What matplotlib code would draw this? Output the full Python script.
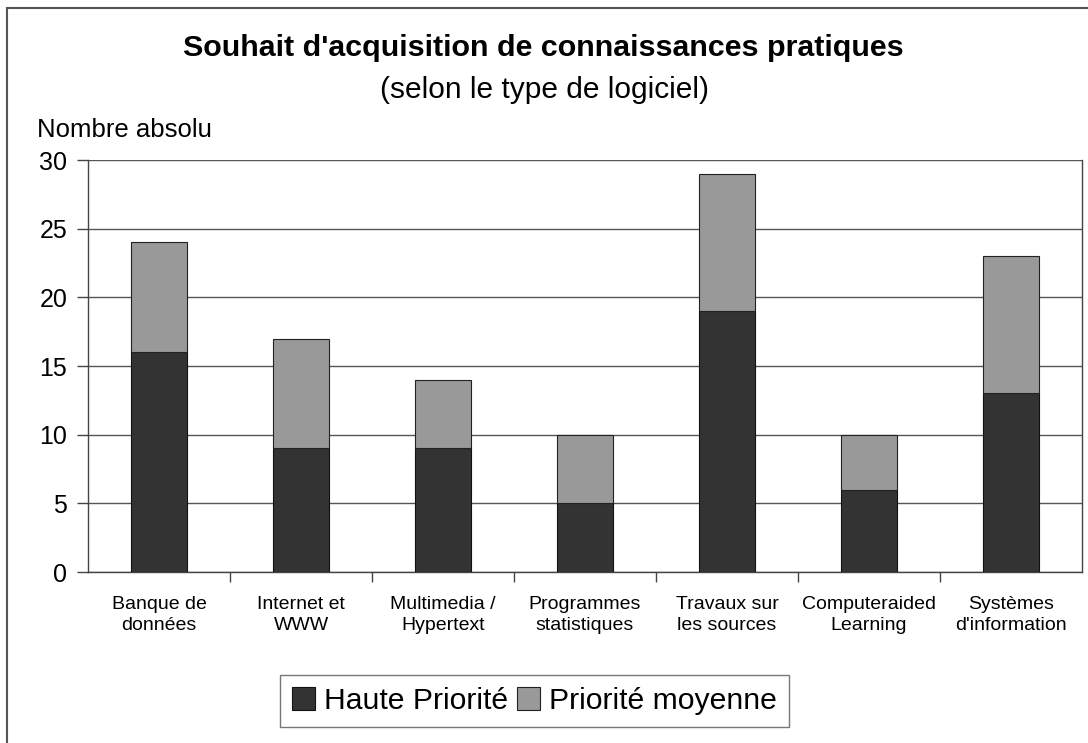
import numpy as np
import matplotlib
matplotlib.use("Agg")
import matplotlib.pyplot as plt
from matplotlib.patches import Rectangle

plt.rcParams['font.family'] = ['Liberation Sans', 'DejaVu Sans']

categories = ["Banque de\ndonnées", "Internet et\nWWW", "Multimedia /\nHypertext",
              "Programmes\nstatistiques", "Travaux sur\nles sources",
              "Computeraided\nLearning", "Systèmes\nd'information"]
haute = [16, 9, 9, 5, 19, 6, 13]
moyenne = [8, 8, 5, 5, 10, 4, 10]
yticks = [0, 5, 10, 15, 20, 25, 30]

fig = plt.figure(figsize=(10.88, 7.43), dpi=100)
ax = fig.add_axes([88 / 1088, 1 - 572 / 743, (1082 - 88) / 1088, (572 - 160) / 743])

x = np.arange(len(categories))
b1 = ax.bar(x, haute, width=0.40, color="#333333", edgecolor="#111111", linewidth=0.8,
            label="Haute Priorité", zorder=3)
b2 = ax.bar(x, moyenne, width=0.40, bottom=haute, color="#999999", edgecolor="#222222",
            linewidth=0.8, label="Priorité moyenne", zorder=3)

ax.set_xlim(-0.5, len(categories) - 0.5)
ax.set_ylim(0, 30)
ax.set_yticks(yticks)
ax.yaxis.grid(True, color="#555555", linewidth=1.0, zorder=0)
ax.tick_params(axis="y", direction="out", length=8, width=1, color="#444444",
               labelsize=18, pad=7)

ax.set_xticks(x)
ax.set_xticklabels(categories, fontsize=14, linespacing=1.35)
ax.tick_params(axis="x", which="major", length=0, pad=17)
ax.set_xticks(np.arange(0.5, len(categories) - 1, 1), minor=True)
ax.tick_params(axis="x", which="minor", direction="out", length=7, width=1, color="#444444")

for side in ["left", "bottom", "right"]:
    ax.spines[side].set_color("#444444")
    ax.spines[side].set_linewidth(1.0)
ax.spines["top"].set_visible(False)

fig.text(0.499, 1 - 48 / 743, "Souhait d'acquisition de connaissances pratiques",
         ha="center", va="center", fontsize=21.9, fontweight="bold")
fig.text(0.50, 1 - 90 / 743, "(selon le type de logiciel)", ha="center", va="center", fontsize=21.5)
fig.text(37 / 1088, 1 - 130 / 743, "Nombre absolu", ha="left", va="center", fontsize=18.5)

leg = fig.legend(handles=[b1, b2], loc="center", bbox_to_anchor=(0.4913, 0.0565), ncol=2,
                 fontsize=21.7, frameon=True, fancybox=False, handlelength=0.75,
                 handleheight=0.75, handletextpad=0.3, columnspacing=0.3,
                 borderpad=0.4, borderaxespad=0)
leg.get_frame().set_edgecolor("#555555")
leg.get_frame().set_linewidth(1.0)

# outer frame of the chart (only top and left visible)
fig.patches.append(Rectangle((7 / 1088, -0.1), 1.2, 1 - 8 / 743 + 0.1, transform=fig.transFigure,
                             fill=False, edgecolor="#555555", linewidth=1.5))

fig.savefig("out.png", dpi=100)
